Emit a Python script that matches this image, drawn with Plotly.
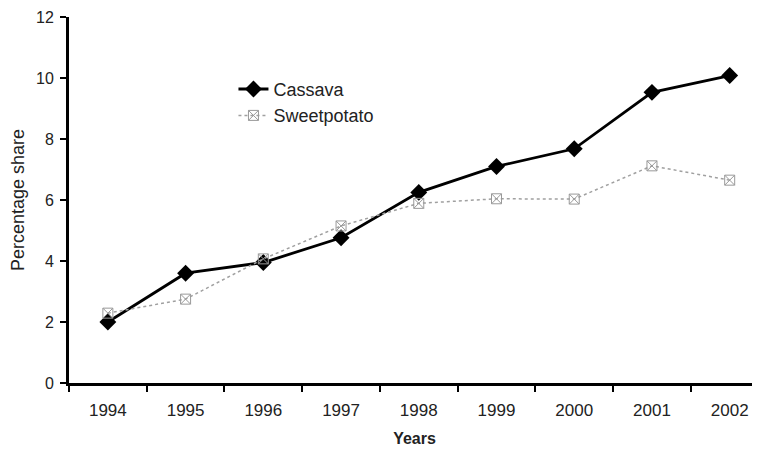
import plotly.graph_objects as go

years = ["1994", "1995", "1996", "1997", "1998", "1999", "2000", "2001", "2002"]
cassava = [2.0, 3.6, 3.95, 4.76, 6.25, 7.1, 7.68, 9.53, 10.08]
sweetpotato = [2.29, 2.75, 4.07, 5.15, 5.89, 6.04, 6.03, 7.12, 6.65]
y_ticks = [0, 2, 4, 6, 8, 10, 12]

fig = go.Figure()
fig.add_trace(go.Scatter(
    x=years, y=cassava, name="Cassava", mode="lines+markers", legendgroup="a",
    line=dict(color="black", width=2.8),
    marker=dict(symbol="diamond", size=13, color="black"),
))
fig.add_trace(go.Scatter(
    x=years, y=sweetpotato, name="Sweetpotato", mode="lines+markers", legendgroup="b",
    line=dict(color="#a0a0a0", width=1.5, dash="dot"),
    marker=dict(symbol="square-x-open", size=10, color="#999999", line=dict(width=1)),
))

font = "Liberation Sans, Arial, sans-serif"
fig.update_layout(
    width=760, height=449,
    margin=dict(l=61, r=8, t=9, b=74),
    paper_bgcolor="white", plot_bgcolor="white",
    font=dict(family=font, size=16, color="#222"),
    showlegend=True,
    legend=dict(x=0.238, y=0.853, xanchor="left", yanchor="top",
                bgcolor="rgba(0,0,0,0)", font=dict(size=18, color="#222"),
                tracegroupgap=0),
    xaxis=dict(
        type="category", range=[-0.5, 8.39], automargin=False,
        showline=True, linecolor="black", linewidth=3,
        ticks="outside", ticklen=6, tickwidth=2, tickcolor="black",
        tickson="boundaries", showgrid=False, zeroline=False,
        ticklabelstandoff=10,
        title=dict(text="<b>Years</b>", font=dict(size=16), standoff=14),
        tickfont=dict(size=17),
    ),
    yaxis=dict(
        range=[0, 12], tickvals=y_ticks, automargin=False,
        showline=True, linecolor="black", linewidth=3,
        ticks="outside", ticklen=6, tickwidth=2, tickcolor="black",
        showgrid=False, zeroline=False, ticklabelstandoff=3,
        title=dict(text="Percentage share", font=dict(size=18), standoff=12),
        tickfont=dict(size=16),
    ),
)

fig.write_html("out.html")
